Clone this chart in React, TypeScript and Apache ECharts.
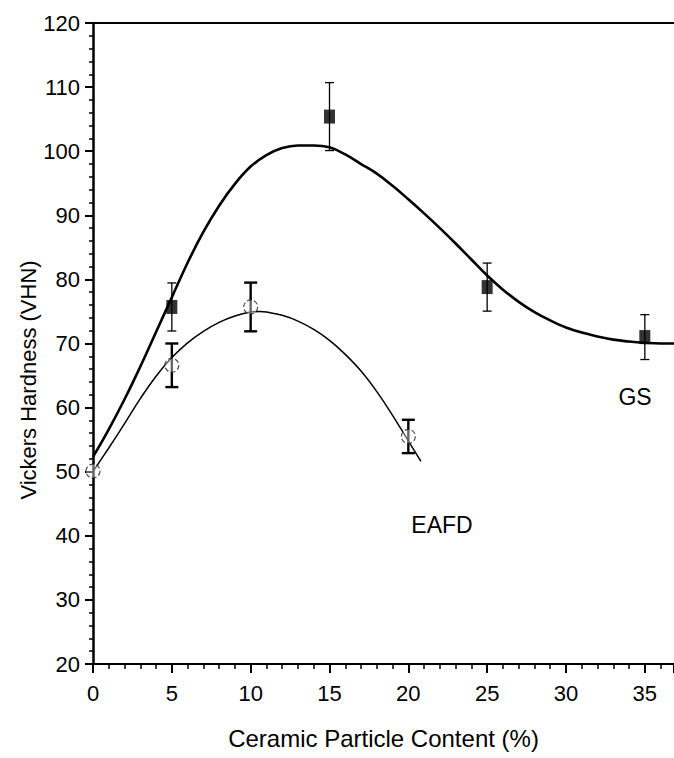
import React, { useEffect, useRef } from "react";
import * as echarts from "echarts";

// ---- data ----
const GS_CURVE_X = [0, 1, 2, 3, 4, 5, 6, 7, 8, 9, 10, 11, 12, 13, 14, 15, 16, 17, 18, 19, 20, 21, 22, 23, 24, 25, 26, 27, 28, 29, 30, 31, 32, 33, 34, 35, 36, 36.85];
const GS_CURVE_Y = [52.3, 56.6, 61.3, 66.4, 71.8, 77.2, 82.6, 87.4, 91.5, 94.9, 97.6, 99.4, 100.5, 100.9, 100.9, 100.6, 99.5, 98.0, 96.5, 94.6, 92.5, 90.3, 88.0, 85.6, 83.1, 80.6, 78.4, 76.5, 74.9, 73.6, 72.5, 71.7, 71.1, 70.6, 70.3, 70.1, 70.0, 70.0];

const EAFD_CURVE_X = [0, 1, 2, 3, 4, 5, 6, 7, 8, 9, 10, 10.6, 11, 12, 13, 14, 15, 16, 17, 18, 19, 20, 20.8];
const EAFD_CURVE_Y = [50.0, 53.7, 57.5, 61.4, 64.9, 67.8, 70.1, 71.9, 73.3, 74.3, 74.9, 75.0, 74.9, 74.4, 73.5, 72.2, 70.5, 68.3, 65.7, 62.5, 58.8, 54.8, 51.6];

const GS_X = [5, 15, 25, 35];
const GS_Y = [75.7, 105.4, 78.8, 71.0];
const GS_ERR = [3.75, 5.3, 3.75, 3.5];

const EAFD_X = [0, 5, 10, 20];
const EAFD_Y = [50.1, 66.6, 75.7, 55.5];
const EAFD_ERR = [0, 3.4, 3.8, 2.6];

const X_MIN = 0;
const X_MAX = 36.85;
const Y_MIN = 20;
const Y_MAX = 120;

const FONT = '"Liberation Sans Narrow", "Arial Narrow", "Liberation Sans", Arial, sans-serif';

function errBarItem(capHalf: number, width: number) {
  return (params: any, api: any) => {
    const x = api.value(0);
    const lo = api.value(1);
    const hi = api.value(2);
    if (hi - lo <= 0) return { type: "group", children: [] };
    const p1 = api.coord([x, hi]);
    const p2 = api.coord([x, lo]);
    const style = { stroke: "#000", lineWidth: width };
    return {
      type: "group",
      children: [
        { type: "line", shape: { x1: p1[0], y1: p1[1], x2: p2[0], y2: p2[1] }, style },
        { type: "line", shape: { x1: p1[0] - capHalf, y1: p1[1], x2: p1[0] + capHalf, y2: p1[1] }, style },
        { type: "line", shape: { x1: p2[0] - capHalf, y1: p2[1], x2: p2[0] + capHalf, y2: p2[1] }, style },
      ],
    };
  };
}

export default function App() {
  const ref = useRef<HTMLDivElement>(null);

  useEffect(() => {
    document.body.style.margin = "0";
    if (!ref.current) return;
    const chart = echarts.init(ref.current, null, { renderer: "svg" });

    const gsCurve = GS_CURVE_X.map((x, i) => [x, GS_CURVE_Y[i]]);
    const eafdCurve = EAFD_CURVE_X.map((x, i) => [x, EAFD_CURVE_Y[i]]);
    const gsPts = GS_X.map((x, i) => [x, GS_Y[i]]);
    const eafdPts = EAFD_X.map((x, i) => [x, EAFD_Y[i]]);
    const gsErr = GS_X.map((x, i) => [x, GS_Y[i] - GS_ERR[i], GS_Y[i] + GS_ERR[i]]);
    const eafdErr = EAFD_X.map((x, i) => [x, EAFD_Y[i] - EAFD_ERR[i], EAFD_Y[i] + EAFD_ERR[i]]);

    const option: any = {
      animation: false,
      backgroundColor: "#fff",
      grid: { left: 93, right: 0, top: 23, bottom: 94 },
      xAxis: [
        {
          type: "value",
          min: X_MIN,
          max: X_MAX,
          interval: 5,
          name: "Ceramic Particle Content (%)",
          nameLocation: "middle",
          nameGap: 62,
          nameTextStyle: { fontFamily: FONT, fontSize: 24, color: "#000" },
          axisLine: { show: true, onZero: false, lineStyle: { color: "#000", width: 2 } },
          axisTick: { show: true, length: 9, lineStyle: { color: "#000", width: 2 } },
          minorTick: { show: true, splitNumber: 5, length: 5, lineStyle: { color: "#000", width: 1.5 } },
          axisLabel: {
            margin: 18,
            fontFamily: FONT,
            fontSize: 22,
            color: "#000",
            showMaxLabel: false,
            formatter: (v: number) => (Math.abs(v % 5) < 1e-6 ? String(v) : ""),
          },
          splitLine: { show: false },
        },
        {
          type: "value",
          position: "top",
          min: X_MIN,
          max: X_MAX,
          axisLine: { show: true, onZero: false, lineStyle: { color: "#000", width: 2 } },
          axisTick: { show: false },
          axisLabel: { show: false },
          splitLine: { show: false },
        },
      ],
      yAxis: {
        type: "value",
        min: Y_MIN,
        max: Y_MAX,
        interval: 10,
        axisLine: { show: true, onZero: false, lineStyle: { color: "#000", width: 2.5 } },
        axisTick: { show: true, length: 8, lineStyle: { color: "#000", width: 2 } },
        minorTick: { show: true, splitNumber: 5, length: 4, lineStyle: { color: "#000", width: 1.5 } },
        axisLabel: { margin: 13, fontFamily: FONT, fontSize: 22, color: "#000" },
        splitLine: { show: false },
      },
      graphic: [
        {
          type: "text",
          x: 28,
          y: 380,
          rotation: Math.PI / 2,
          style: {
            text: "Vickers Hardness (VHN)",
            fontFamily: FONT,
            fontSize: 22,
            fill: "#000",
            textAlign: "center",
            textVerticalAlign: "middle",
          },
        },
        {
          type: "text",
          x: 635,
          y: 397,
          style: { text: "GS", fontFamily: FONT, fontSize: 23, fill: "#000", textAlign: "center", textVerticalAlign: "middle" },
        },
        {
          type: "text",
          x: 442,
          y: 525,
          style: { text: "EAFD", fontFamily: FONT, fontSize: 23, fill: "#000", textAlign: "center", textVerticalAlign: "middle" },
        },
      ],
      series: [
        {
          name: "GS fit",
          type: "line",
          data: gsCurve,
          smooth: 0.4,
          showSymbol: false,
          lineStyle: { color: "#000", width: 2.6 },
          z: 2,
        },
        {
          name: "EAFD fit",
          type: "line",
          data: eafdCurve,
          smooth: 0.4,
          showSymbol: false,
          lineStyle: { color: "#000", width: 1.5 },
          z: 2,
        },
        {
          name: "GS error",
          type: "custom",
          renderItem: errBarItem(4.5, 1.3),
          encode: { x: 0, y: [1, 2] },
          data: gsErr,
          z: 3,
        },
        {
          name: "EAFD error",
          type: "custom",
          renderItem: errBarItem(6.5, 2.4),
          encode: { x: 0, y: [1, 2] },
          data: eafdErr,
          z: 3,
        },
        {
          name: "GS",
          type: "scatter",
          data: gsPts,
          symbol: "rect",
          symbolSize: [11, 14],
          itemStyle: { color: "#000" },
          z: 4,
        },
        {
          name: "EAFD",
          type: "scatter",
          data: eafdPts,
          symbol: "circle",
          symbolSize: 14,
          itemStyle: { color: "rgba(255,255,255,0.5)", borderColor: "#222", borderWidth: 1.2, borderType: "dashed" },
          z: 4,
        },
      ],
    };

    chart.setOption(option);
    return () => chart.dispose();
  }, []);

  return (
    <div
      ref={ref}
      style={{ position: "fixed", left: 0, top: 0, width: 674, height: 758, background: "#fff" }}
    />
  );
}
